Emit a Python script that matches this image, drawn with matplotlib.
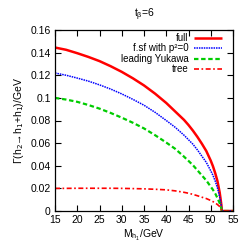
import matplotlib
matplotlib.use("Agg")
import matplotlib.pyplot as plt

plt.rcParams['font.family'] = ['Liberation Sans', 'DejaVu Sans']

mh1 = [15, 17.5, 20, 22.5, 25, 27.5, 30, 32.5, 35, 37.5, 40, 42, 44, 45, 46, 47, 48, 49, 50, 50.5, 51, 51.5, 52, 52.2, 52.4, 52.5, 53, 54, 55]
full = [0.1445, 0.1425, 0.1395, 0.1362, 0.1325, 0.128, 0.123, 0.1173, 0.111, 0.1037, 0.0955, 0.088, 0.0805, 0.076, 0.071, 0.0655, 0.0595, 0.053, 0.0445, 0.0395, 0.0335, 0.0265, 0.0165, 0.011, 0.005, 0, 0, 0, 0]
fsf = [0.122, 0.120, 0.1175, 0.1148, 0.1115, 0.1078, 0.1035, 0.0987, 0.0935, 0.0872, 0.080, 0.074, 0.067, 0.063, 0.059, 0.054, 0.0485, 0.043, 0.0355, 0.0315, 0.0265, 0.0205, 0.0125, 0.0085, 0.004, 0, 0, 0, 0]
yuk = [0.100, 0.0985, 0.0965, 0.0937, 0.0905, 0.0867, 0.0825, 0.078, 0.073, 0.067, 0.0605, 0.055, 0.048, 0.0443, 0.0405, 0.036, 0.0315, 0.027, 0.0215, 0.0187, 0.0155, 0.0115, 0.007, 0.0048, 0.002, 0, 0, 0, 0]
tree = [0.0200, 0.0200, 0.0201, 0.0201, 0.0201, 0.0201, 0.0200, 0.0198, 0.0196, 0.0192, 0.0187, 0.0178, 0.0165, 0.0157, 0.0147, 0.0135, 0.0122, 0.0110, 0.0093, 0.0083, 0.0072, 0.0057, 0.0040, 0.0028, 0.0012, 0, 0, 0, 0]

labels = ['full', 'f.sf with p²=0', 'leading Yukawa', 'tree']
xticks = [15, 20, 25, 30, 35, 40, 45, 50, 55]
yticks = [0, 0.02, 0.04, 0.06, 0.08, 0.1, 0.12, 0.14, 0.16]
yticklabels = ['0', '0.02', '0.04', '0.06', '0.08', '0.1', '0.12', '0.14', '0.16']

fig = plt.figure(figsize=(2.5, 2.5), dpi=100)
ax = fig.add_axes([0.22, 0.156, 0.712, 0.724])

styles = [
    dict(color='#ff0000', lw=1.8, ls='-', solid_capstyle='butt'),
    dict(color='#0000ff', lw=1.1, ls=(0, (1, 0.6))),
    dict(color='#00cc00', lw=1.6, ls=(0, (2, 1.2))),
    dict(color='#ff0000', lw=1.2, ls=(0, (3, 1.5, 1, 1.5))),
]
series = [full, fsf, yuk, tree]
leg_y = [0.956, 0.898, 0.840, 0.782]
for ys, st, lab, ly in zip(series, styles, labels, leg_y):
    ax.plot(mh1, ys, **st)
    ax.plot([0.78, 0.94], [ly, ly], transform=ax.transAxes, **st)
    ax.text(0.75, ly, lab, transform=ax.transAxes, ha='right', va='center', fontsize=7)

ax.set_xlim(15, 55)
ax.set_ylim(0, 0.16)
ax.set_xticks(xticks)
ax.set_yticks(yticks)
ax.set_yticklabels(yticklabels)
ax.tick_params(direction='in', top=True, right=True, labelsize=7.5, length=4, width=0.8, pad=3)
for s in ax.spines.values():
    s.set_linewidth(0.9)

ax.set_xlabel('M$_{\\mathregular{h_1}}$/GeV', fontsize=7.5, labelpad=2)
ax.set_ylabel('Γ(h$_2$→h$_1$+h$_1$)/GeV', fontsize=7.5, labelpad=3)
ax.set_title('t$_\\mathregular{β}$=6', fontsize=7.5, pad=9)

fig.savefig('out.png', dpi=100)
